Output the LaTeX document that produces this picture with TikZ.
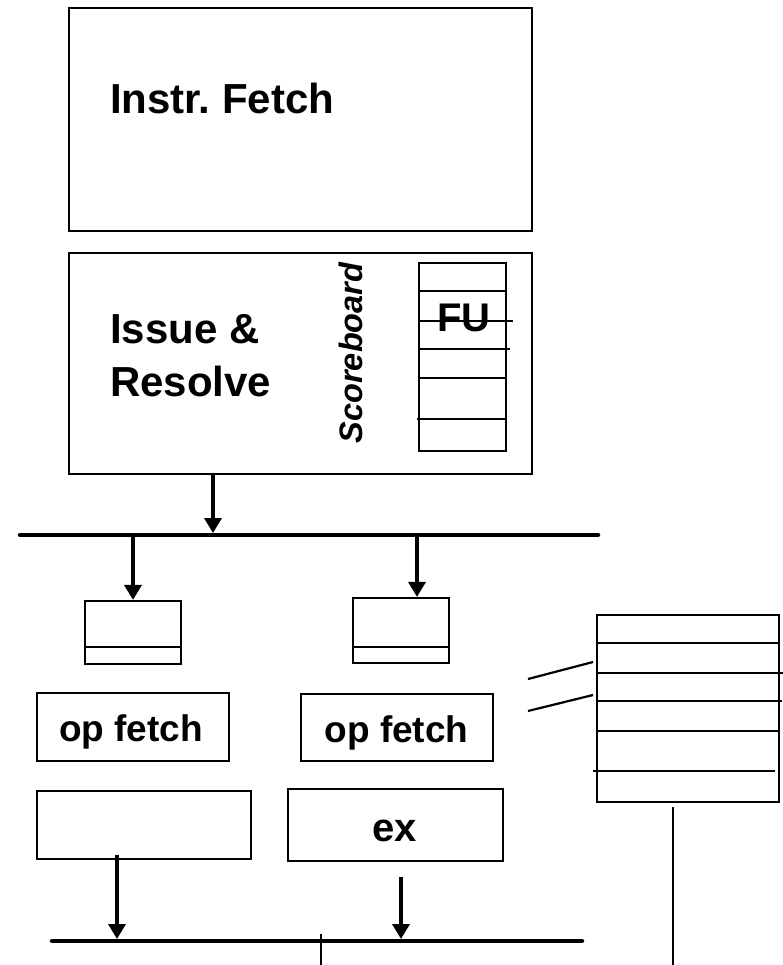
\documentclass[tikz,border=0pt]{standalone}
\usepackage{fontspec}
\setmainfont{Liberation Sans}
\frenchspacing
\usetikzlibrary{arrows.meta}
\tikzset{
  box/.style={draw=black, line width=2.5pt, rectangle, inner sep=0pt},
  thin/.style={line width=2.2pt},
  bus/.style={line width=4.5pt, line cap=round},
  arr/.style={line width=3.5pt, -{Triangle[length=15pt,width=17pt]}},
  lbl/.style={font=\bfseries\fontsize{#1}{#1}\selectfont, inner sep=0pt},
}
\begin{document}
\begin{tikzpicture}[x=1pt,y=-1pt]
\useasboundingbox (0,0) rectangle (783,965);
% main boxes
\node[box, minimum width=463pt, minimum height=223pt] (fetch) at (300.5,119.5) {};
\node[lbl=42, anchor=base west] (fetchtxt) at (110,114) {Instr. Fetch};
\node[box, minimum width=463pt, minimum height=221pt] (issue) at (300.5,363.5) {};
\node[lbl=42, anchor=base west] (issuetxt) at (110,343) {Issue \&};
\node[lbl=42, anchor=base west] (resolvetxt) at (110,396) {Resolve};
\node[lbl=32, font=\bfseries\itshape\fontsize{32.5}{32.5}\selectfont, rotate=90, anchor=base] (sb) at (362,353) {Scoreboard};
% FU table
\node[box, line width=2.2pt, minimum width=87pt, minimum height=188pt] (fu) at (462.5,357) {};
\coordinate (fu1l) at (419,291); \coordinate (fu1r) at (506,291);
\coordinate (fu2l) at (419,321); \coordinate (fu2r) at (513,321);
\coordinate (fu3l) at (419,349); \coordinate (fu3r) at (510,349);
\coordinate (fu4l) at (419,378); \coordinate (fu4r) at (506,378);
\coordinate (fu5l) at (417,419); \coordinate (fu5r) at (506,419);
\draw[thin] (fu1l) -- (fu1r);
\draw[thin] (fu2l) -- (fu2r);
\draw[thin] (fu3l) -- (fu3r);
\draw[thin] (fu4l) -- (fu4r);
\draw[thin] (fu5l) -- (fu5r);
\node[lbl=40, anchor=base] (futxt) at (464,331) {FU};
% upper bus
\coordinate (busAl) at (20,535); \coordinate (busAr) at (598,535);
\draw[bus] (busAl) -- (busAr);
\coordinate (busAin) at (213,533);
\draw[arr] (issue.south -| busAin) -- (busAin);
% small buffers
\node[box, line width=2.2pt, minimum width=96pt, minimum height=63pt] (bufL) at (133,632.5) {};
\node[box, line width=2.2pt, minimum width=96pt, minimum height=65pt] (bufR) at (401,630.5) {};
\coordinate (bLl) at (85,647); \coordinate (bLr) at (181,647);
\coordinate (bRl) at (353,647); \coordinate (bRr) at (449,647);
\draw[thin] (bLl) -- (bLr);
\draw[thin] (bRl) -- (bRr);
\coordinate (busAoL) at (133,535); \coordinate (busAoR) at (417,535);
\draw[arr] (busAoL) -- (busAoL |- bufL.north);
\draw[arr] (busAoR) -- (busAoR |- bufR.north);
% op fetch
\node[box, minimum width=192pt, minimum height=68pt] (opL) at (133,727) {};
\node[box, minimum width=192pt, minimum height=67pt] (opR) at (397,727.5) {};
\node[lbl=37, anchor=base] (opLtxt) at (131,741) {op fetch};
\node[lbl=37, anchor=base] (opRtxt) at (396.5,742) {op fetch};
% execute
\node[box, minimum width=214pt, minimum height=68pt] (exL) at (144,825) {};
\node[box, minimum width=215pt, minimum height=72pt] (exR) at (395.5,825) {};
\node[lbl=40, anchor=base] (extxt) at (394.5,841) {ex};
% lower bus
\coordinate (busBl) at (52,941); \coordinate (busBr) at (582,941);
\draw[bus] (busBl) -- (busBr);
\coordinate (aLs) at (117,855); \coordinate (aLe) at (117,939);
\coordinate (aRs) at (401,877); \coordinate (aRe) at (401,939);
\draw[arr] (aLs) -- (aLe);
\draw[arr] (aRs) -- (aRe);
\coordinate (tickT) at (321,934); \coordinate (tickB) at (321,965);
\draw[thin] (tickT) -- (tickB);
% register file
\node[box, line width=2.2pt, minimum width=182pt, minimum height=187pt] (rf) at (688,708.5) {};
\coordinate (r1l) at (598,643); \coordinate (r1r) at (778,643);
\coordinate (r2l) at (598,673); \coordinate (r2r) at (783,673);
\coordinate (r3l) at (598,701); \coordinate (r3r) at (782,701);
\coordinate (r4l) at (598,731); \coordinate (r4r) at (778,731);
\coordinate (r5l) at (593,771); \coordinate (r5r) at (775,771);
\draw[thin] (r1l) -- (r1r);
\draw[thin] (r2l) -- (r2r);
\draw[thin] (r3l) -- (r3r);
\draw[thin] (r4l) -- (r4r);
\draw[thin] (r5l) -- (r5r);
\coordinate (d1a) at (528,679); \coordinate (d1b) at (593,662);
\coordinate (d2a) at (528,711); \coordinate (d2b) at (593,695);
\draw[thin] (d1a) -- (d1b);
\draw[thin] (d2a) -- (d2b);
\coordinate (rfout) at (673,807); \coordinate (rfend) at (673,965);
\draw[thin] (rfout) -- (rfend);
\end{tikzpicture}
\end{document}
